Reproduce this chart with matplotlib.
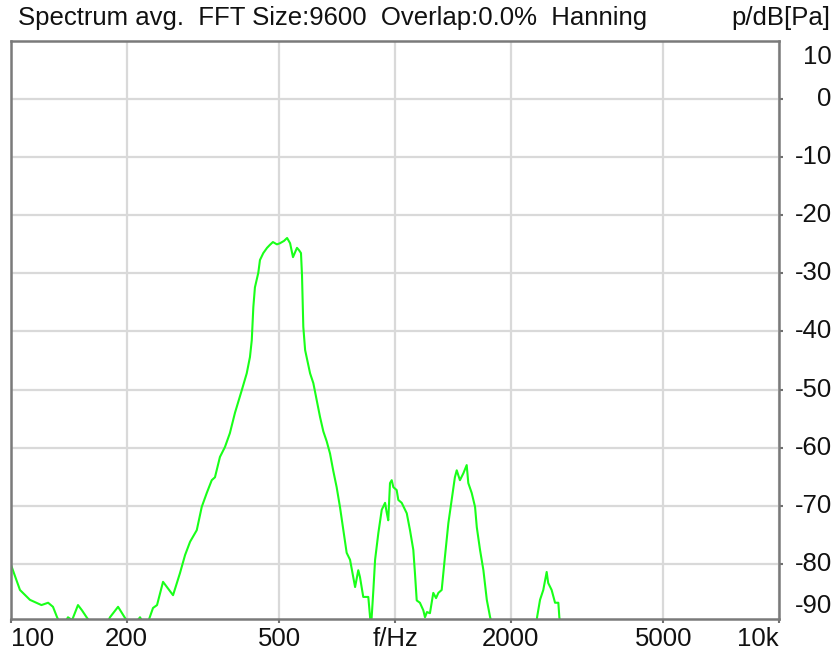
import numpy as np
import matplotlib.pyplot as plt
import matplotlib.transforms as mtransforms

plt.rcParams['font.family'] = ['Liberation Sans', 'DejaVu Sans']

# spectrum (Hz, dB)
freq = [100, 105.5, 112, 120, 124.9, 128.6, 131.8, 135.8, 140.7, 144.2, 149.4, 153, 157.7,
        165, 175.7, 181, 190, 198, 206.6, 216.7, 224.7, 234.3, 240, 248.8, 264.2, 275.4,
        283.9, 292.6, 304.6, 313.8, 323.4, 333.2, 339.7, 350, 360.6, 371.5, 383, 399, 411,
        419, 423.6, 427.6, 431.7, 440.5, 444.9, 453.9, 464.2, 472, 480.9, 492.6, 501.8, 514,
        523.5, 533, 542.4, 555.5, 562.3, 569, 572.5, 577, 583.3, 600.9, 612.8, 625.3, 637.8,
        650.6, 663.8, 677.2, 690.6, 704.7, 719.2, 733.6, 748.3, 763.6, 778.3, 787.1, 802.3,
        810.6, 826.6, 852, 861, 866, 878.3, 887.4, 904.9, 923.5, 942.2, 951, 960.3, 970.4,
        980.4, 990, 1010, 1020, 1041, 1073, 1094, 1116, 1127, 1139, 1161, 1185, 1197, 1211,
        1233, 1258, 1279, 1297, 1323, 1349, 1377, 1405, 1432, 1448, 1476, 1507, 1537, 1552,
        1584, 1616, 1633, 1665, 1699, 1734, 1769, 1800, 2329, 2344, 2386, 2433, 2483, 2506,
        2558, 2611, 2663, 2679, 2704]
level = [-80.2, -84.5, -86.2, -87.1, -86.7, -87.4, -89.2, -91, -89.2, -89.7, -87.1, -88, -89.3,
         -91, -91, -89.2, -87.4, -89.3, -91, -89.2, -91, -87.6, -87.1, -83.1, -85.4, -81.6,
         -78.5, -76.2, -74.2, -70.2, -67.8, -65.6, -65.1, -61.6, -59.9, -57.5, -54, -50.1, -47.2,
         -44.4, -41.5, -35.8, -32.4, -29.9, -27.7, -26.5, -25.6, -25.1, -24.6, -25.0, -24.8, -24.4,
         -23.9, -24.8, -27.2, -25.6, -26, -26.5, -30.3, -39.2, -43.2, -47.2, -48.9, -51.8, -54.7,
         -57.2, -58.9, -61, -64, -66.8, -70.3, -74.2, -78.1, -79.3, -82.3, -84, -81.1,
         -82.3, -85.7, -85.7, -89.2, -91, -84.5, -79.3, -74.7, -70.7, -69.5, -71.1, -72.5, -66.1,
         -65.6, -66.8, -67.3, -69, -69.5, -71.3, -74.2, -77.6, -81.6, -86.3, -86.7, -88, -89.2, -88.3,
         -88.5, -85, -85.9, -85, -84.5, -78.8, -73, -69, -65.1, -63.9, -65.6, -64.4, -63, -66.1,
         -67.8, -70.2, -73.7, -77.6, -81.1, -86.2, -89.2, -91, -91, -89.2, -86.2, -84.5, -81.4, -83.3,
         -84.5, -86.7, -86.7, -89.2, -91]

xticks = [100, 200, 500, 1000, 2000, 5000, 10000]
xlabels = ['100', '200', '500', 'f/Hz', '2000', '5000', '10k']
yticks = [10, 0, -10, -20, -30, -40, -50, -60, -70, -80, -90]

fig = plt.figure(figsize=(8.36, 6.52), dpi=100)
ax = fig.add_axes([0.0132, 0.0506, 0.9186, 0.8864])

ax.plot(freq, level, color='#19ff19', lw=1.5)

ax.set_xscale('log')
ax.set_xlim(100, 10000)
ax.set_ylim(-89.5, 10)
ax.set_xticks(xticks)
ax.set_yticks(yticks[1:-1])
ax.xaxis.set_minor_locator(plt.NullLocator())
ax.set_xticklabels([])
ax.yaxis.tick_right()
ax.set_yticklabels([])
ax.tick_params(length=3, width=1.5, color='#707070', direction='out')
ax.grid(True, color='#d9d9d9', lw=1.6)
ax.set_axisbelow(True)
for s in ax.spines.values():
    s.set_color('#7a7a7a')
    s.set_linewidth(1.8)

fs = 18.5
# x labels (first one left aligned, last one right aligned)
tx = mtransforms.blended_transform_factory(ax.transData, ax.transAxes)
for i, (v, lab) in enumerate(zip(xticks, xlabels)):
    ha = 'left' if i == 0 else ('right' if i == len(xticks) - 1 else 'center')
    ax.text(v, -0.013, lab, transform=tx, ha=ha, va='top', fontsize=fs, color='#111111')

# y labels on the right
ty = mtransforms.blended_transform_factory(fig.transFigure, ax.transData)
for v in yticks:
    yy = v
    if v == 10:
        yy = 7.2
    if v == -90:
        yy = -87.3
    ax.text(0.995, yy, str(v), transform=ty, ha='right', va='center', fontsize=fs, color='#111111')

fig.text(0.021, 0.972, 'Spectrum avg.  FFT Size:9600  Overlap:0.0%  Hanning',
         ha='left', va='center', fontsize=fs, color='#111111')
fig.text(0.993, 0.972, 'p/dB[Pa]', ha='right', va='center', fontsize=fs, color='#111111')

fig.savefig('out.png', dpi=100)
